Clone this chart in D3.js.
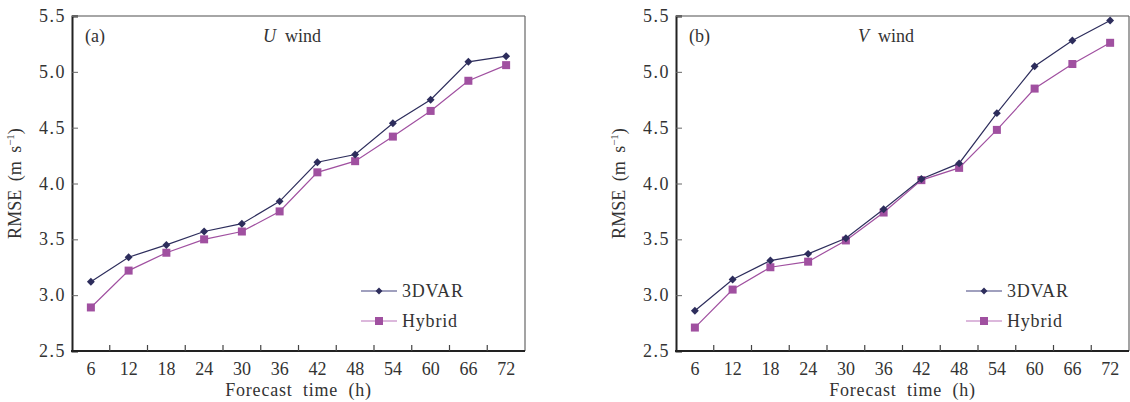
<!DOCTYPE html>
<html>
<head>
<meta charset="utf-8">
<script src="https://cdn.jsdelivr.net/npm/d3@7"></script>
<style>
  body { margin: 0; background: #fff; }
</style>
</head>
<body>
<svg id="chart" width="1130" height="402" font-family="'Liberation Serif', 'DejaVu Serif', 'Times New Roman', serif"></svg>
<script>
// forecast hours
var hours = [6, 12, 18, 24, 30, 36, 42, 48, 54, 60, 66, 72];
var yTicks = [2.5, 3.0, 3.5, 4.0, 4.5, 5.0, 5.5];

// panel (a) U wind
var u3dvar  = [3.12, 3.34, 3.45, 3.57, 3.64, 3.84, 4.19, 4.26, 4.54, 4.75, 5.09, 5.14];
var uHybrid = [2.89, 3.22, 3.38, 3.50, 3.57, 3.75, 4.10, 4.20, 4.42, 4.65, 4.92, 5.06];

// panel (b) V wind
var v3dvar  = [2.86, 3.14, 3.31, 3.37, 3.51, 3.77, 4.04, 4.18, 4.63, 5.05, 5.28, 5.46];
var vHybrid = [2.71, 3.05, 3.25, 3.30, 3.49, 3.74, 4.03, 4.14, 4.48, 4.85, 5.07, 5.26];

var seriesNames = ["3DVAR", "Hybrid"];

var col3d = "#2d2d5c", colHy = "#a050a0";
var leg3d = "#8080a8", legHy = "#d0a0d0";
var txt = "#333";

var svg = d3.select("#chart");

function drawPanel(opt) {
    var left = opt.left, right = opt.right, top = 16, bottom = 351;
    var g = svg.append("g").attr("fill", txt);

    var x = d3.scaleBand().domain(hours).range([left, right]);
    var y = d3.scaleLinear().domain([2.5, 5.5]).range([bottom, top]);

    // frame top + right
    g.append("line").attr("x1", left).attr("x2", right).attr("y1", top).attr("y2", top)
        .attr("stroke", "#888").attr("stroke-width", 1.5);
    g.append("line").attr("x1", right).attr("x2", right).attr("y1", top).attr("y2", bottom)
        .attr("stroke", "#666").attr("stroke-width", 1.2);

    // y axis
    var yAxis = g.append("g").attr("transform", "translate(" + left + ",0)")
        .call(d3.axisRight(y).tickValues(yTicks).tickSize(6).tickFormat(""));
    yAxis.select(".domain").attr("stroke", "#222").attr("stroke-width", 2);
    yAxis.selectAll(".tick line").attr("stroke", "#666");
    g.selectAll(".ylab").data(yTicks).enter().append("text")
        .attr("x", left - 6).attr("y", function(d){ return y(d) + 6; })
        .attr("text-anchor", "end").attr("font-size", 18).attr("letter-spacing", 1.5)
        .text(function(d){ return d.toFixed(1); });

    // x axis: ticks at band boundaries
    var bounds = hours.slice(1).map(function(h){ return x(h); });
    g.append("line").attr("x1", left - 1).attr("x2", right).attr("y1", bottom).attr("y2", bottom)
        .attr("stroke", "#222").attr("stroke-width", 2);
    g.selectAll(".xt").data(bounds).enter().append("line")
        .attr("x1", function(d){ return d; }).attr("x2", function(d){ return d; })
        .attr("y1", bottom).attr("y2", bottom - 6).attr("stroke", "#444").attr("stroke-width", 1.2);
    g.selectAll(".xlab").data(hours).enter().append("text")
        .attr("x", function(d){ return x(d) + x.bandwidth() / 2; }).attr("y", bottom + 24)
        .attr("text-anchor", "middle").attr("font-size", 18)
        .text(function(d){ return d; });

    g.append("text").attr("x", (left + right) / 2).attr("y", 396)
        .attr("text-anchor", "middle").attr("font-size", 18).attr("letter-spacing", 0.8)
        .attr("word-spacing", 5).text("Forecast time (h)");

    var yl = g.append("text").attr("transform", "translate(" + (left - 51) + "," + ((top + bottom) / 2) + ") rotate(-90)")
        .attr("text-anchor", "middle").attr("font-size", 18).attr("word-spacing", 4);
    yl.append("tspan").text("RMSE (m s");
    yl.append("tspan").attr("font-size", 11).attr("dy", -7).text("\u22121");
    yl.append("tspan").attr("dy", 7).text(")");

    // panel labels
    g.append("text").attr("x", left + 13).attr("y", 42).attr("font-size", 18).text(opt.tag);
    var t = g.append("text").attr("x", opt.titleX).attr("y", 42).attr("font-size", 18);
    t.append("tspan").attr("font-style", "italic").text(opt.comp);
    t.append("tspan").attr("dx", 9).text("wind");

    var cx = function(d, i){ return x(hours[i]) + x.bandwidth() / 2; };
    var line = d3.line().x(cx).y(function(d){ return y(d); });

    // hybrid
    g.append("path").datum(opt.hy).attr("d", line).attr("fill", "none")
        .attr("stroke", colHy).attr("stroke-width", 1.2);
    g.selectAll(".hy").data(opt.hy).enter().append("rect")
        .attr("x", function(d, i){ return cx(d, i) - 4; }).attr("y", function(d){ return y(d) - 4; })
        .attr("width", 8).attr("height", 8).attr("fill", colHy);

    // 3dvar
    var diamond = d3.symbol().type(d3.symbolDiamond2).size(40);
    g.append("path").datum(opt.d3).attr("d", line).attr("fill", "none")
        .attr("stroke", col3d).attr("stroke-width", 1.2);
    g.selectAll(".dv").data(opt.d3).enter().append("path")
        .attr("d", diamond)
        .attr("transform", function(d, i){ return "translate(" + cx(d, i) + "," + y(d) + ")"; })
        .attr("fill", col3d);

    // legend
    var lx = opt.legX, ly = [291, 321];
    [[leg3d, col3d], [legHy, colHy]].forEach(function(c, i) {
        g.append("line").attr("x1", lx).attr("x2", lx + 36).attr("y1", ly[i]).attr("y2", ly[i])
            .attr("stroke", c[0]).attr("stroke-width", 1.5);
        if (i === 0) {
            g.append("path").attr("d", d3.symbol().type(d3.symbolDiamond2).size(30))
                .attr("transform", "translate(" + (lx + 18) + "," + ly[i] + ")").attr("fill", c[1]);
        } else {
            g.append("rect").attr("x", lx + 14).attr("y", ly[i] - 4).attr("width", 8).attr("height", 8)
                .attr("fill", c[1]);
        }
        g.append("text").attr("x", lx + 41).attr("y", ly[i] + 6).attr("font-size", 18)
            .attr("letter-spacing", 0.8).text(seriesNames[i]);
    });
}

drawPanel({ left: 72, right: 525, tag: "(a)", comp: "U", titleX: 263, d3: u3dvar, hy: uHybrid, legX: 361 });
drawPanel({ left: 676, right: 1129, tag: "(b)", comp: "V", titleX: 858, d3: v3dvar, hy: vHybrid, legX: 966 });
</script>
</body>
</html>
